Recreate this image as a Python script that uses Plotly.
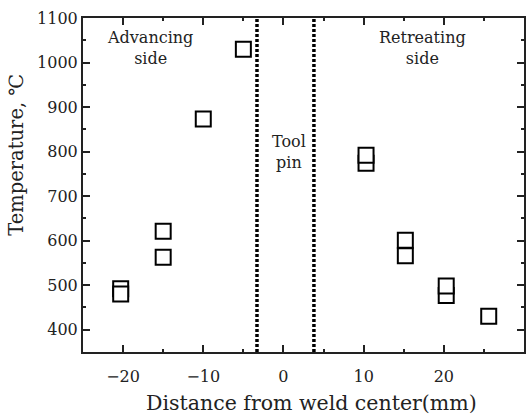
import plotly.graph_objects as go

# Data
adv_x = [-20.3, -20.3, -15.0, -15.0, -10.0, -5.0]
adv_y = [492, 480, 621, 563, 873, 1030]
ret_x = [10.3, 10.3, 15.2, 15.2, 20.3, 20.3, 25.6]
ret_y = [774, 792, 566, 601, 477, 498, 430]
pin_edges = [-3.3, 3.8]

x_ticks = [-20, -10, 0, 10, 20, 30]
y_ticks = [400, 500, 600, 700, 800, 900, 1000, 1100]

FONT = "DejaVu Serif"
TXT = "#222"

fig = go.Figure()
marker = dict(symbol="square", size=15, color="white",
              line=dict(color="black", width=2))
fig.add_trace(go.Scatter(x=adv_x, y=adv_y, mode="markers", marker=marker,
                         showlegend=False))
fig.add_trace(go.Scatter(x=ret_x, y=ret_y, mode="markers", marker=marker,
                         showlegend=False))

for xe in pin_edges:
    fig.add_shape(type="line", xref="x", yref="paper", x0=xe, x1=xe, y0=0, y1=1,
                  line=dict(color="black", width=3.5, dash="3px,2px"), layer="above")

ann_font = dict(family=FONT, size=16, color=TXT)
fig.add_annotation(x=-16.6, y=1032, text="Advancing<br>side", showarrow=False,
                   font=ann_font, xref="x", yref="y", align="center")
fig.add_annotation(x=0.7, y=799, text="Tool<br>pin", showarrow=False,
                   font=ann_font, xref="x", yref="y", align="center")
fig.add_annotation(x=17.4, y=1032, text="Retreating<br>side", showarrow=False,
                   font=ann_font, xref="x", yref="y", align="center")

# Axis titles placed as annotations to match the reference offsets
fig.add_annotation(x=0.519, y=-0.153, xref="paper", yref="paper",
                   text="Distance from weld center(mm)", showarrow=False,
                   font=dict(family=FONT, size=20.5, color=TXT),
                   xanchor="center", yanchor="middle")
fig.add_annotation(x=-0.15, y=0.59, xref="paper", yref="paper",
                   text="Temperature, ℃", showarrow=False, textangle=-90,
                   font=dict(family=FONT, size=19.5, color=TXT),
                   xanchor="center", yanchor="middle")

axis_common = dict(showline=True, linecolor=TXT, linewidth=2, mirror="ticks",
                   ticks="inside", ticklen=7, tickwidth=2, tickcolor=TXT,
                   showgrid=False, zeroline=False,
                   tickfont=dict(family=FONT, size=16, color=TXT))

fig.update_xaxes(range=[-25, 30], tickvals=x_ticks, ticklabelstandoff=9,
                 minor=dict(dtick=5, tick0=0, ticks="inside", ticklen=3,
                            tickwidth=2, tickcolor=TXT, showgrid=False),
                 **axis_common)
fig.update_yaxes(range=[350, 1100], tickvals=y_ticks,
                 minor=dict(dtick=50, tick0=0, ticks="inside", ticklen=3,
                            tickwidth=2, tickcolor=TXT, showgrid=False),
                 **axis_common)

fig.update_layout(width=528, height=417,
                  margin=dict(l=83, r=2, t=18, b=65, pad=0),
                  plot_bgcolor="white", paper_bgcolor="white")

fig.write_html("out.html")
